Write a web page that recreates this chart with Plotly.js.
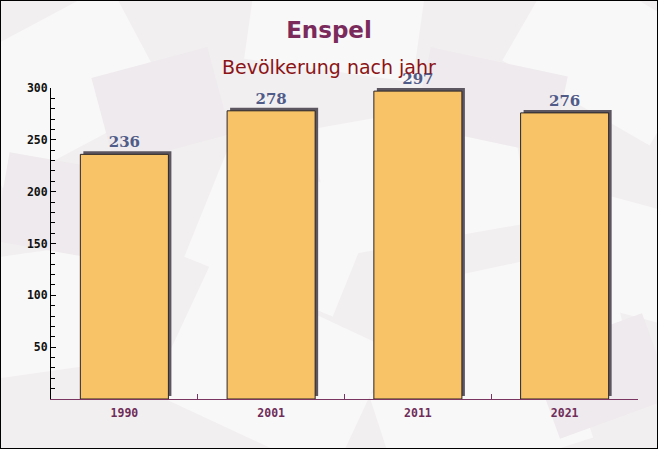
<!DOCTYPE html>
<html>
<head>
<meta charset="utf-8">
<script src="https://cdn.plot.ly/plotly-3.0.1.min.js"></script>
<style>
  html, body { margin: 0; padding: 0; background: #ffffff; }
  #chart { width: 656px; height: 447px; border: 1px solid #000; }
</style>
</head>
<body>
<div id="chart"></div>
<script>
// ---- data ----
const years = ['1990', '2001', '2011', '2021'];
const population = [236, 278, 297, 276];
const yTickVals = [50, 100, 150, 200, 250, 300];
const titleText = 'Enspel';
const subtitleText = 'Bevölkerung nach jahr';

// ---- layout geometry ----
const W = 656, H = 447;
const M = { l: 50, r: 19, t: 87, b: 49 };
const plotW = W - M.l - M.r;
const plotH = H - M.t - M.b;
const yMax = 300;
const nCat = years.length;
const shadowDx = 3 * nCat / plotW;      // 3px to the right, in category units
const shadowDy = 3 * yMax / plotH;      // 3px upwards, in value units

// decorative envelope-like background (purely ornamental)
const bgSvg =
  '<svg xmlns="http://www.w3.org/2000/svg" width="656" height="447">' +
  '<rect width="656" height="447" fill="#f2eff1"/>' +
  '<g fill="#f9f8f8">' +
  '<rect x="-40" y="20" width="190" height="130" transform="rotate(-28 55 85)"/>' +
  '<rect x="250" y="-40" width="170" height="110" transform="rotate(8 335 15)"/>' +
  '<rect x="520" y="-10" width="170" height="120" transform="rotate(30 605 50)"/>' +
  '<rect x="320" y="110" width="200" height="130" transform="rotate(-10 420 175)"/>' +
  '<rect x="200" y="170" width="160" height="120" transform="rotate(22 280 230)"/>' +
  '<rect x="-30" y="250" width="150" height="120" transform="rotate(-8 45 310)"/>' +
  '<rect x="170" y="300" width="200" height="140" transform="rotate(25 270 370)"/>' +
  '<rect x="440" y="260" width="180" height="130" transform="rotate(-12 530 325)"/>' +
  '<rect x="560" y="200" width="120" height="110" transform="rotate(15 620 255)"/>' +
  '<rect x="380" y="360" width="200" height="110" transform="rotate(-18 480 415)"/>' +
  '</g>' +
  '<g fill="#eeeaed">' +
  '<rect x="100" y="60" width="120" height="90" transform="rotate(-15 160 105)"/>' +
  '<rect x="420" y="60" width="140" height="80" transform="rotate(12 490 100)"/>' +
  '<rect x="0" y="160" width="110" height="90" transform="rotate(10 55 205)"/>' +
  '<rect x="540" y="330" width="120" height="90" transform="rotate(-20 600 375)"/>' +
  '</g>' +
  '</svg>';

const shadow = {
  type: 'bar', x: years, y: population, xaxis: 'x', yaxis: 'y',
  width: 0.6,
  marker: { color: '#5c5660', line: { width: 0 } },
  hoverinfo: 'skip', showlegend: false
};
const bars = {
  type: 'bar', x: years, y: population, xaxis: 'x2', yaxis: 'y2',
  width: 0.6,
  marker: { color: '#f8c366', line: { color: '#2b2529', width: 1 } },
  text: population.map(String),
  textposition: 'outside',
  cliponaxis: false,
  textfont: { family: 'DejaVu Serif', size: 15, color: '#505b88', weight: 'bold' },
  hoverinfo: 'x+y', showlegend: false
};

const layout = {
  width: W, height: H,
  margin: M,
  paper_bgcolor: '#f3f1f2',
  plot_bgcolor: 'rgba(0,0,0,0)',
  showlegend: false,
  bargap: 0.4,
  images: [{
    source: 'data:image/svg+xml;charset=utf-8,' + encodeURIComponent(bgSvg),
    xref: 'paper', yref: 'paper',
    x: -M.l / plotW, y: 1 + M.t / plotH,
    sizex: W / plotW, sizey: H / plotH,
    xanchor: 'left', yanchor: 'top', sizing: 'stretch', layer: 'below', opacity: 1
  }],
  title: {
    text: '<b>' + titleText + '</b>',
    font: { family: 'DejaVu Sans', size: 23, color: '#7a2b5c' },
    x: 0.5, xref: 'container', xanchor: 'center',
    y: 1 - 29 / H, yref: 'container', yanchor: 'middle'
  },
  annotations: [{
    text: subtitleText, showarrow: false,
    xref: 'paper', x: (W / 2 - M.l) / plotW, xanchor: 'center',
    yref: 'paper', y: (plotH + M.t - 66) / plotH, yanchor: 'middle',
    font: { family: 'DejaVu Sans', size: 19, color: '#8b1416' }
  }],
  xaxis: {
    type: 'category', visible: false,
    range: [-0.5 - shadowDx, nCat - 0.5 - shadowDx], fixedrange: true
  },
  yaxis: {
    visible: false, range: [-shadowDy, yMax - shadowDy], fixedrange: true
  },
  xaxis2: {
    type: 'category', overlaying: 'x', anchor: 'y2',
    range: [-0.5, nCat - 0.5],
    showline: true, linecolor: '#7a3560', linewidth: 1,
    showgrid: false, zeroline: false,
    ticks: 'inside', tickson: 'boundaries', ticklen: 5, tickcolor: '#7a3560',
    ticklabelstandoff: 3,
    tickfont: { family: 'DejaVu Sans Mono', size: 11.5, color: '#6e2c58', weight: 'bold' }
  },
  yaxis2: {
    overlaying: 'y', anchor: 'x2',
    range: [0, yMax],
    showline: true, linecolor: '#000', linewidth: 1,
    showgrid: false, zeroline: false,
    tickmode: 'array', tickvals: yTickVals,
    ticks: 'inside', ticklen: 5, tickcolor: '#000',
    minor: { tickmode: 'linear', tick0: 0, dtick: 10, ticks: 'inside', ticklen: 4, tickcolor: '#000' },
    tickfont: { family: 'DejaVu Sans Mono', size: 11.5, color: '#111', weight: 'bold' }
  }
};

Plotly.newPlot('chart', [shadow, bars], layout, { displayModeBar: false, staticPlot: true });
</script>
</body>
</html>
